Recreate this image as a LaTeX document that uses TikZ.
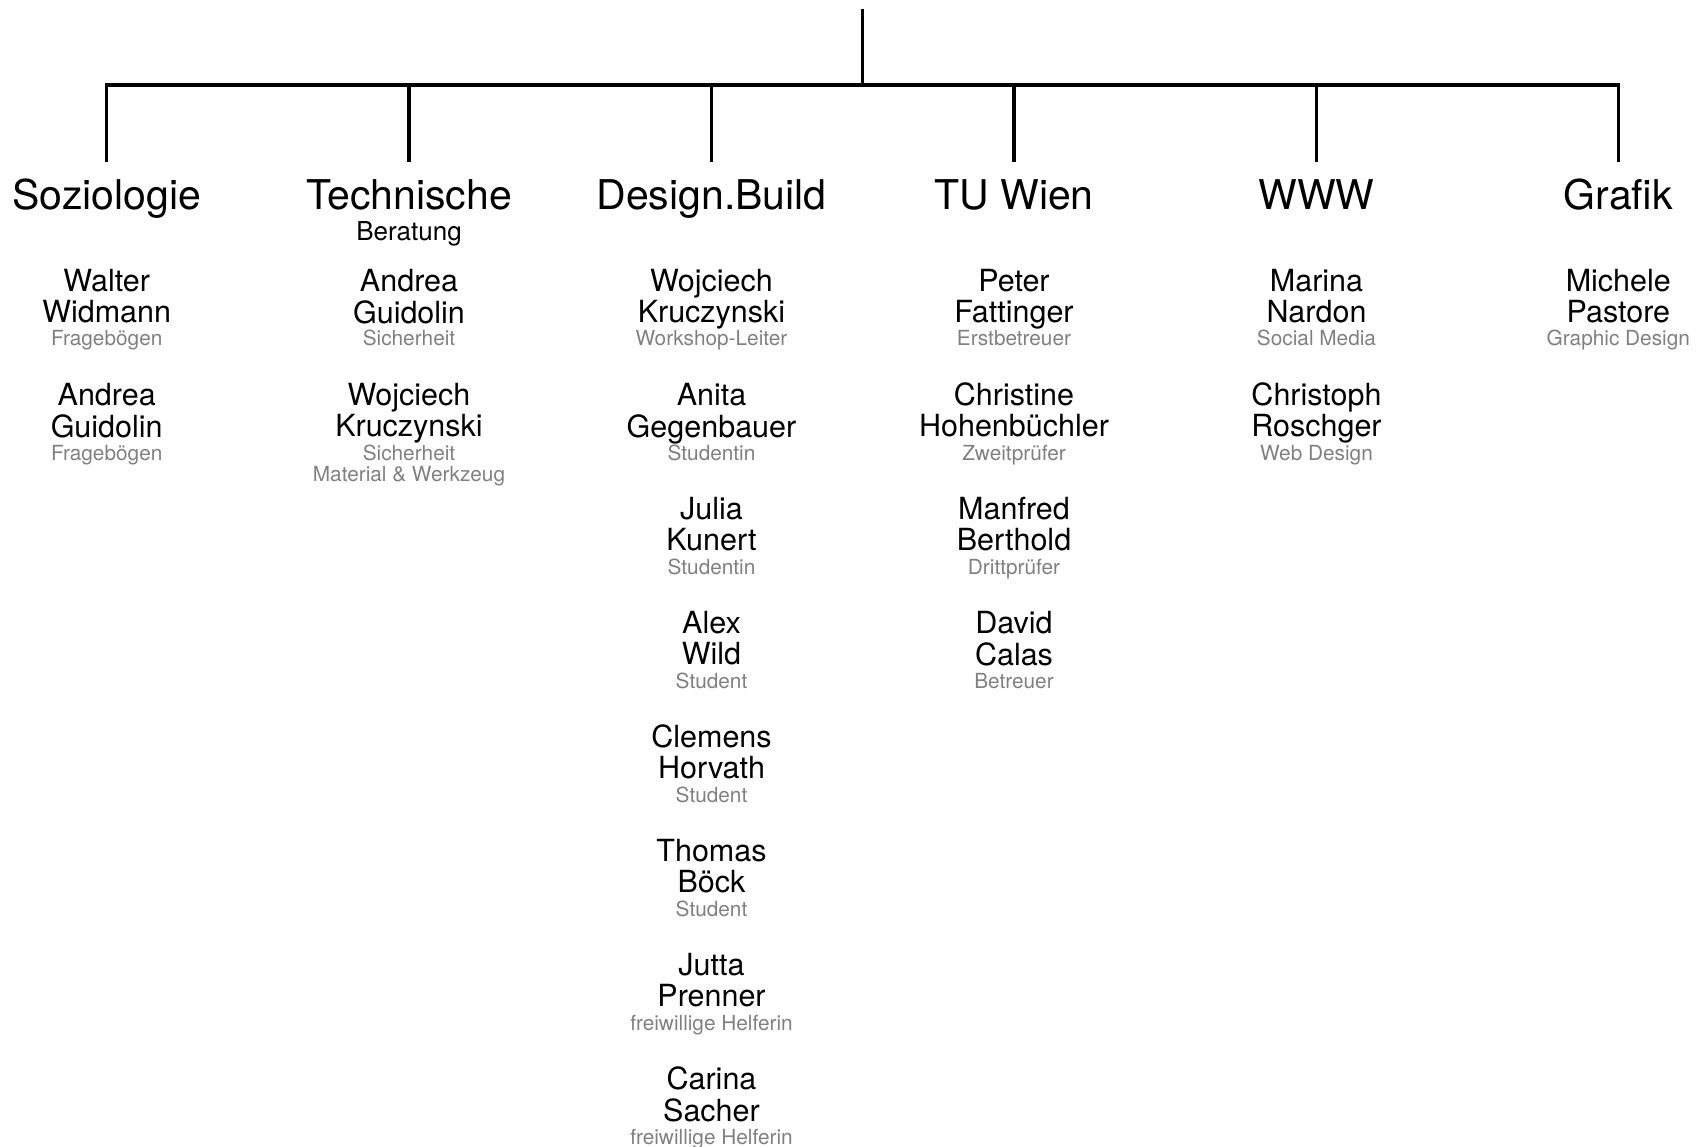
\documentclass[tikz,border=0pt]{standalone}
\usepackage{fontspec}
\setmainfont{TeX Gyre Heros}
\usetikzlibrary{calc}
\definecolor{roletext}{RGB}{128,128,128}
% lines of a stack, hung from the first baseline
\newcommand{\hangstack}[1]{\begin{tabular}[t]{@{}c@{}}#1\end{tabular}}
\tikzset{
  tie/.style={line width=3.3pt},
  head/.style={font=\fontsize{41}{41}\selectfont, anchor=base, text height=30pt, text depth=9pt, inner xsep=0pt, inner ysep=18pt},
  sub/.style={font=\fontsize{26}{26}\selectfont, anchor=base, inner sep=0pt},
  who/.style={font=\fontsize{30.5}{30}\selectfont, anchor=base, inner sep=0pt},
  task/.style={font=\fontsize{20.8}{20}\selectfont, text=roletext, anchor=base, inner sep=0pt}
}

\begin{document}
\begin{tikzpicture}[x=1pt,y=-1pt]
  \useasboundingbox (0,0) rectangle (1705,1147);
  % root of the tree
  \coordinate (root) at (862.5,8.7);
  \coordinate (hub) at (862.5,85);
  % departments
  \foreach \id/\x/\txt in {soz/106.7/Soziologie, tec/409/Technische, des/711.5/Design.Build, tuw/1014/TU Wien, www/1316.5/WWW, gra/1618.3/Grafik} {
    \node[head] (\id) at (\x,210) {\txt};
    \coordinate (\id-hub) at (\x,85);
  }
  \node[sub] (tec-sub) at (409,240.7) {Beratung};
  % branches
  \draw[tie] (root) -- (hub);
  \draw[tie] (soz.north) -- (soz-hub) -- (gra-hub) -- (gra.north);
  \foreach \id in {tec,des,tuw,www}
    \draw[tie] (\id-hub) -- (\id.north);
  % people, one column per department
  \foreach \col/\x/\list in {
      soz/106.7/{Walter\\Widmann/Fragebögen, Andrea\\Guidolin/Fragebögen},
      tec/409/{Andrea\\Guidolin/Sicherheit, Wojciech\\Kruczynski/{Sicherheit\\Material \& Werkzeug}},
      des/711.5/{Wojciech\\Kruczynski/Workshop-Leiter, Anita\\Gegenbauer/Studentin, Julia\\Kunert/Studentin, Alex\\Wild/Student, Clemens\\Horvath/Student, Thomas\\Böck/Student, Jutta\\Prenner/freiwillige Helferin, Carina\\Sacher/freiwillige Helferin},
      tuw/1014/{Peter\\Fattinger/Erstbetreuer, Christine\\Hohenbüchler/Zweitprüfer, Manfred\\Berthold/Drittprüfer, David\\Calas/Betreuer},
      www/1316.5/{Marina\\Nardon/Social Media, Christoph\\Roschger/Web Design},
      gra/1618.3/{Michele\\Pastore/Graphic Design}} {
    \foreach \who/\job [count=\k] in \list {
      \node[who] (\col-\k) at (\x,{291.7+114*(\k-1)}) {\hangstack{\who}};
      \node[task] (\col-\k-job) at ($(\col-\k.base)+(0,54.3)$) {\hangstack{\job}};
    }
  }
\end{tikzpicture}
\end{document}
